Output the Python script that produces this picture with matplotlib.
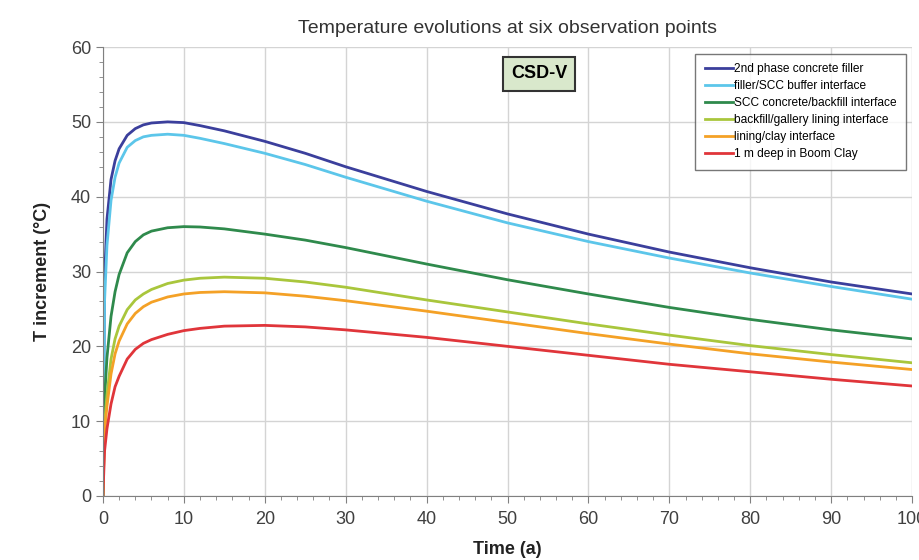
import matplotlib
matplotlib.use("Agg")
import matplotlib.pyplot as plt
from matplotlib.ticker import MultipleLocator

plt.rcParams['font.family'] = ['Liberation Sans', 'DejaVu Sans']

# time (years)
t = [0, 0.2, 0.5, 1, 1.5, 2, 3, 4, 5, 6, 8, 10, 12, 15, 20, 25, 30, 40, 50, 60, 70, 80, 90, 100]

filler = [0, 29, 37, 42.3, 44.8, 46.4, 48.2, 49.1, 49.6, 49.85, 50.0, 49.9, 49.5, 48.8, 47.4, 45.8,
          44.0, 40.7, 37.7, 35.0, 32.6, 30.5, 28.6, 27.0]
buffer_if = [0, 26, 33.5, 39.5, 42.6, 44.5, 46.6, 47.5, 48.0, 48.2, 48.35, 48.2, 47.8, 47.1, 45.8, 44.3,
             42.6, 39.4, 36.5, 34.0, 31.8, 29.8, 28.0, 26.3]
backfill_if = [0, 13, 18.5, 24, 27.3, 29.6, 32.5, 34.0, 34.9, 35.4, 35.85, 36.0, 35.95, 35.7, 35.0, 34.2,
               33.2, 31.0, 28.9, 27.0, 25.2, 23.6, 22.2, 21.0]
lining_if = [0, 9.5, 13.5, 18.3, 21.0, 22.7, 24.9, 26.2, 27.0, 27.6, 28.4, 28.85, 29.1, 29.25, 29.1, 28.6,
             27.9, 26.2, 24.6, 23.0, 21.5, 20.1, 18.9, 17.8]
clay_if = [0, 8.5, 12, 16.3, 19.0, 20.7, 23.0, 24.4, 25.3, 25.9, 26.6, 27.0, 27.2, 27.3, 27.15, 26.7,
           26.1, 24.7, 23.2, 21.7, 20.3, 19.0, 17.9, 16.9]
boom_clay = [0, 6, 9, 12.3, 14.6, 16.0, 18.3, 19.6, 20.4, 20.9, 21.6, 22.1, 22.4, 22.7, 22.8, 22.6,
             22.2, 21.2, 20.0, 18.8, 17.6, 16.6, 15.6, 14.7]

labels = ['2nd phase concrete filler', 'filler/SCC buffer interface', 'SCC concrete/backfill interface',
          'backfill/gallery lining interface', 'lining/clay interface', '1 m deep in Boom Clay']
colors = ['#3b3f9c', '#5cc6ea', '#2f8a4c', '#a9c63c', '#f4a126', '#e0353a']
series = [filler, buffer_if, backfill_if, lining_if, clay_if, boom_clay]

fig = plt.figure(figsize=(9.19, 5.60), dpi=100)
ax = fig.add_axes([0.112, 0.1143, 0.8805, 0.8017])

for ys, lab, c in zip(series, labels, colors):
    ax.plot(t, ys, color=c, lw=2, label=lab)

ax.set_xlim(0, 100)
ax.set_ylim(0, 60)
ax.xaxis.set_major_locator(MultipleLocator(10))
ax.xaxis.set_minor_locator(MultipleLocator(2))
ax.yaxis.set_major_locator(MultipleLocator(10))
ax.yaxis.set_minor_locator(MultipleLocator(2))
ax.grid(True, which='major', color='#d4d4d4', lw=1)
ax.set_axisbelow(True)

for s in ['top', 'right']:
    ax.spines[s].set_visible(False)
for s in ['left', 'bottom']:
    ax.spines[s].set_color('#808080')

ax.tick_params(which='major', length=5, color='#808080', labelsize=13, labelcolor='#404040')
ax.tick_params(which='minor', length=3, color='#808080')
ax.tick_params(axis='x', pad=6)

ax.set_title('Temperature evolutions at six observation points', fontsize=14, color='#333333', pad=10)
ax.set_ylabel('T increment (°C)', fontsize=13, fontweight='bold', color='#222222', labelpad=14)
ax.set_xlabel('Time (a)', fontsize=13, fontweight='bold', color='#222222', labelpad=9)

ax.text(53.9, 56.4, 'CSD-V', fontsize=13, fontweight='bold', ha='center', va='center',
        bbox=dict(boxstyle='square,pad=0.45', fc='#d9e8cc', ec='#333333', lw=1.5))

leg = ax.legend(loc='upper right', bbox_to_anchor=(0.9925, 0.985), fontsize=8.6, frameon=True,
                fancybox=False, handlelength=2.4, handletextpad=0.05, labelspacing=0.42,
                borderpad=0.8, borderaxespad=0)
leg.get_frame().set_edgecolor('#555555')
leg.get_frame().set_linewidth(1)

fig.savefig('out.png', dpi=100)
